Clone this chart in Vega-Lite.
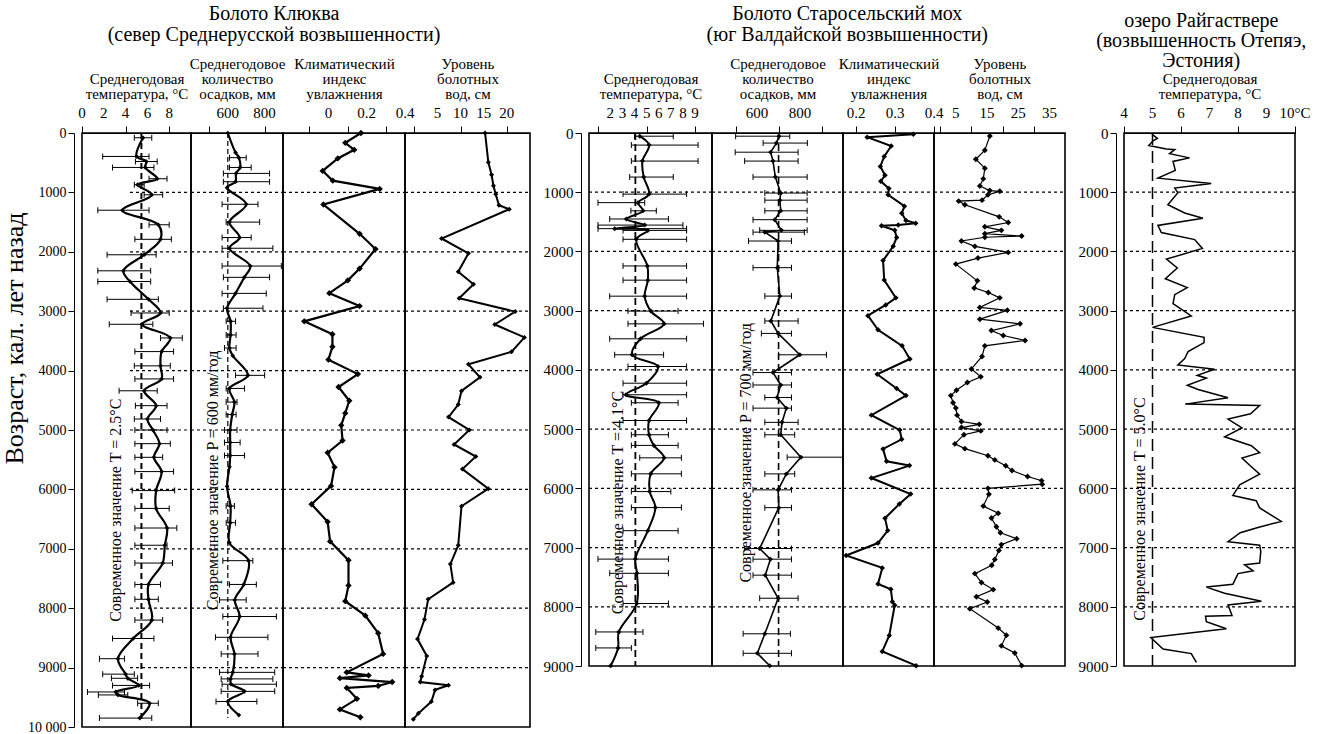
{
"$schema":"https://vega.github.io/schema/vega-lite/v6.json",
"padding":{"left":0,"top":3,"right":5,"bottom":0},
"background":"white",
"config":{
"font":"Liberation Serif",
"view":{"stroke":"black","strokeWidth":1.6},
"axis":{"labelFont":"Liberation Serif","labelFontSize":15,"labelColor":"black","titleFont":"Liberation Serif","titleFontSize":15,"titleFontWeight":"normal","titleColor":"black","titleLineHeight":15,"domainColor":"black","tickColor":"black","grid":false,"labelOverlap":false,"tickSize":7,"labelPadding":0,"titlePadding":2,"labelFlush":false},
"title":{"font":"Liberation Serif","fontSize":20,"fontWeight":"normal","color":"black","lineHeight":21,"anchor":"middle","frame":"bounds"},
"text":{"font":"Liberation Serif"}
},
"datasets":{
"grid9":[{"a":1000},{"a":2000},{"a":3000},{"a":4000},{"a":5000},{"a":6000},{"a":7000},{"a":8000},{"a":9000}],
"grid8":[{"a":1000},{"a":2000},{"a":3000},{"a":4000},{"a":5000},{"a":6000},{"a":7000},{"a":8000}],
"k_t":[
{"a":80,"v":5.6,"lo":4.8,"hi":6.4},{"a":395,"v":5.0,"lo":1.9,"hi":6.15},{"a":480,"v":5.9,"lo":4.9,"hi":6.9},{"a":580,"v":5.8,"lo":2.8,"hi":6.6},{"a":770,"v":6.9,"lo":6.15,"hi":7.8},{"a":870,"v":5.1,"lo":4.8,"hi":5.7},{"a":1040,"v":6.4,"lo":5.7,"hi":7.4},{"a":1300,"v":3.7,"lo":1.45,"hi":6.15},{"a":1545,"v":7.0,"lo":6.15,"hi":8.0},{"a":1790,"v":7.2,"lo":4.85,"hi":8.2},{"a":2050,"v":5.7,"lo":2.3,"hi":6.8},{"a":2320,"v":3.8,"lo":1.45,"hi":6.3},{"a":2500,"v":4.4,"lo":1.45,"hi":6.3},{"a":2800,"v":6.1,"lo":2.3,"hi":7.0},{"a":3030,"v":7.2,"lo":4.5,"hi":8.0},{"a":3220,"v":5.5,"lo":2.5,"hi":6.5},{"a":3450,"v":8.1,"lo":7.2,"hi":9.2},{"a":3680,"v":7.3,"lo":4.85,"hi":8.4},{"a":3920,"v":7.2,"lo":4.8,"hi":8.1},{"a":4140,"v":7.3,"lo":4.85,"hi":8.4},{"a":4340,"v":5.7,"lo":3.4,"hi":6.9},{"a":4590,"v":6.8,"lo":4.9,"hi":7.8},{"a":4815,"v":6.0,"lo":4.8,"hi":7.2},{"a":5000,"v":6.5,"lo":4.85,"hi":7.8},{"a":5230,"v":7.1,"lo":4.85,"hi":8.1},{"a":5460,"v":6.6,"lo":4.85,"hi":7.4},{"a":5700,"v":7.3,"lo":4.85,"hi":8.4},{"a":6020,"v":6.8,"lo":4.6,"hi":8.5},{"a":6320,"v":6.8,"lo":4.85,"hi":8.0},{"a":6650,"v":7.8,"lo":4.85,"hi":8.7},{"a":6940,"v":7.6,"lo":4.85,"hi":7.8},{"a":7240,"v":7.4,"lo":4.85,"hi":8.3},{"a":7600,"v":6.1,"lo":4.85,"hi":7.2},{"a":7850,"v":6.1,"lo":4.85,"hi":7.0},{"a":8200,"v":6.4,"lo":4.85,"hi":7.4},{"a":8510,"v":4.7,"lo":2.8,"hi":6.6},{"a":8850,"v":3.3,"lo":1.6,"hi":3.9},{"a":9110,"v":4.0,"lo":1.9,"hi":4.8},{"a":9180,"v":4.2,"lo":2.7,"hi":5.1},{"a":9300,"v":5.2,"lo":2.8,"hi":6.2},{"a":9410,"v":3.1,"lo":0.5,"hi":3.9},{"a":9460,"v":3.3,"lo":1.5,"hi":4.2},{"a":9600,"v":6.2,"lo":5.1,"hi":7.0},{"a":9850,"v":5.3,"lo":1.6,"hi":6.4}],
"k_p":[
{"a":0,"v":600},{"a":330,"v":642},{"a":415,"v":660,"lo":609,"hi":700},{"a":580,"v":667,"lo":609,"hi":727},{"a":680,"v":645,"lo":576,"hi":827},{"a":820,"v":642,"lo":576,"hi":827},{"a":920,"v":596},{"a":1200,"v":700,"lo":569,"hi":764},{"a":1500,"v":609,"lo":591,"hi":773},{"a":1760,"v":664,"lo":569,"hi":727},{"a":1940,"v":609,"lo":569,"hi":845},{"a":2240,"v":722,"lo":569,"hi":891},{"a":2430,"v":690,"lo":576,"hi":827},{"a":2700,"v":642,"lo":569,"hi":809},{"a":2950,"v":596,"lo":576,"hi":791},{"a":3170,"v":615,"lo":591,"hi":642},{"a":3400,"v":615,"lo":591,"hi":645},{"a":3620,"v":609,"lo":582,"hi":645},{"a":3750,"v":627},{"a":4080,"v":709,"lo":642,"hi":800},{"a":4300,"v":609,"lo":591,"hi":691},{"a":4530,"v":636,"lo":591,"hi":650},{"a":4740,"v":624,"lo":591,"hi":645},{"a":5000,"v":613,"lo":582,"hi":650},{"a":5210,"v":613,"lo":582,"hi":667},{"a":5430,"v":613,"lo":582,"hi":691},{"a":5620,"v":609},{"a":5950,"v":596},{"a":6280,"v":615,"lo":591,"hi":636},{"a":6560,"v":613,"lo":591,"hi":642},{"a":6900,"v":609},{"a":7200,"v":713,"lo":573,"hi":736},{"a":7600,"v":687,"lo":609,"hi":755},{"a":7860,"v":638,"lo":555,"hi":700},{"a":8140,"v":664,"lo":573,"hi":864},{"a":8490,"v":615,"lo":533,"hi":818},{"a":8770,"v":636,"lo":564,"hi":764},{"a":9080,"v":627,"lo":555,"hi":855},{"a":9190,"v":615,"lo":564,"hi":845},{"a":9280,"v":618,"lo":569,"hi":864},{"a":9400,"v":690,"lo":564,"hi":855},{"a":9570,"v":600,"lo":536,"hi":758},{"a":9800,"v":660}],
"k_i":[
{"a":0,"v":0.17},{"a":165,"v":0.088},{"a":283,"v":0.135},{"a":428,"v":0.049},{"a":638,"v":-0.03},{"a":803,"v":0.023},{"a":941,"v":0.268},{"a":1204,"v":-0.026},{"a":1697,"v":0.163},{"a":1954,"v":0.246},{"a":2283,"v":0.163},{"a":2480,"v":0.102},{"a":2697,"v":0.005},{"a":2914,"v":0.163},{"a":3171,"v":-0.126},{"a":3388,"v":0.021},{"a":3599,"v":0.021},{"a":3816,"v":0.0},{"a":4059,"v":0.154},{"a":4276,"v":0.053},{"a":4507,"v":0.109},{"a":4717,"v":0.088},{"a":4921,"v":0.067},{"a":5178,"v":0.074},{"a":5382,"v":-0.004},{"a":5625,"v":0.032},{"a":5941,"v":0.014},{"a":6250,"v":-0.088},{"a":6546,"v":-0.004},{"a":6875,"v":0.009},{"a":7191,"v":0.105},{"a":7618,"v":0.105},{"a":7882,"v":0.088},{"a":8125,"v":0.193},{"a":8421,"v":0.26},{"a":8770,"v":0.286},{"a":9079,"v":0.096},{"a":9132,"v":0.21},{"a":9178,"v":0.06},{"a":9243,"v":0.333},{"a":9309,"v":0.26},{"a":9342,"v":0.096},{"a":9526,"v":0.149},{"a":9704,"v":0.06},{"a":9836,"v":0.167}],
"k_w":[
{"a":0,"v":15.3},{"a":493,"v":16.0},{"a":704,"v":16.7},{"a":888,"v":17.1},{"a":1033,"v":17.6},{"a":1217,"v":18.3},{"a":1283,"v":20.5},{"a":1776,"v":5.9},{"a":2026,"v":11.7},{"a":2336,"v":9.5},{"a":2546,"v":12.8},{"a":2783,"v":9.7},{"a":3007,"v":21.8},{"a":3224,"v":17.4},{"a":3441,"v":23.8},{"a":3684,"v":21.0},{"a":3895,"v":11.7},{"a":4112,"v":14.2},{"a":4342,"v":10.2},{"a":4572,"v":9.5},{"a":4783,"v":7.4},{"a":5000,"v":11.9},{"a":5243,"v":8.6},{"a":5447,"v":13.3},{"a":5658,"v":10.4},{"a":5987,"v":16.0},{"a":6283,"v":10.2},{"a":6941,"v":9.5},{"a":7257,"v":7.8},{"a":7566,"v":8.4},{"a":7849,"v":3.0},{"a":8191,"v":2.2},{"a":8520,"v":0.7},{"a":8803,"v":2.7},{"a":9145,"v":1.6},{"a":9243,"v":1.3},{"a":9296,"v":7.4},{"a":9375,"v":4.5},{"a":9572,"v":3.7},{"a":9770,"v":0.9},{"a":9868,"v":-0.2}],
"s_t":[
{"a":54,"v":4.43,"lo":4.0,"hi":7.2},{"a":204,"v":5.2,"lo":3.74,"hi":9.25},{"a":474,"v":4.65,"lo":3.74,"hi":9.25},{"a":744,"v":4.76,"lo":3.6,"hi":7.2},{"a":1032,"v":5.2,"lo":3.05,"hi":8.3},{"a":1176,"v":4.29,"lo":0.98,"hi":4.84},{"a":1314,"v":4.7,"lo":3.7,"hi":5.8},{"a":1452,"v":3.32,"lo":1.95,"hi":6.8},{"a":1555,"v":4.84,"lo":0.98,"hi":8.0},{"a":1615,"v":2.36,"lo":0.98,"hi":8.3},{"a":1645,"v":5.1,"lo":3.05,"hi":8.3},{"a":1795,"v":4.15,"lo":3.05,"hi":8.3},{"a":2245,"v":5.06,"lo":3.05,"hi":8.3},{"a":2485,"v":5.1,"lo":3.05,"hi":8.3},{"a":2755,"v":4.84,"lo":1.95,"hi":8.3},{"a":3007,"v":5.34,"lo":3.46,"hi":7.6},{"a":3223,"v":6.44,"lo":3.46,"hi":9.7},{"a":3475,"v":4.5,"lo":1.95,"hi":8.3},{"a":3745,"v":3.8,"lo":2.36,"hi":6.4},{"a":3943,"v":5.94,"lo":3.46,"hi":8.3},{"a":4225,"v":4.98,"lo":3.05,"hi":8.3},{"a":4420,"v":3.3,"lo":3.05,"hi":8.3},{"a":4555,"v":6.0,"lo":3.74,"hi":7.6},{"a":4855,"v":5.2,"lo":3.05,"hi":8.3},{"a":5095,"v":5.2,"lo":3.74,"hi":6.8},{"a":5275,"v":5.6,"lo":3.74,"hi":7.6},{"a":5485,"v":6.44,"lo":4.43,"hi":7.87},{"a":5755,"v":5.34,"lo":3.74,"hi":7.87},{"a":6055,"v":5.26,"lo":3.74,"hi":7.0},{"a":6325,"v":5.72,"lo":3.74,"hi":7.87},{"a":6715,"v":5.1,"lo":3.05,"hi":7.6},{"a":7195,"v":4.07,"lo":0.98,"hi":6.8},{"a":7435,"v":4.2,"lo":1.95,"hi":6.8},{"a":7945,"v":4.18,"lo":3.05,"hi":6.8},{"a":8425,"v":2.7,"lo":0.8,"hi":4.7},{"a":8695,"v":2.64,"lo":0.8,"hi":3.74},{"a":8995,"v":2.03}],
"s_p":[
{"a":54,"v":702,"lo":500,"hi":752},{"a":170,"v":690,"lo":628,"hi":834},{"a":324,"v":663,"lo":498,"hi":791},{"a":474,"v":674,"lo":542,"hi":791},{"a":744,"v":685,"lo":581,"hi":833},{"a":1014,"v":710,"lo":636,"hi":833},{"a":1134,"v":706,"lo":636,"hi":833},{"a":1314,"v":710,"lo":636,"hi":833},{"a":1464,"v":682,"lo":581,"hi":833},{"a":1644,"v":713,"lo":612,"hi":833},{"a":1674,"v":636,"lo":581,"hi":820},{"a":1824,"v":698,"lo":560,"hi":760},{"a":2274,"v":694,"lo":581,"hi":760},{"a":2754,"v":706,"lo":636,"hi":760},{"a":3174,"v":664,"lo":636,"hi":791},{"a":3384,"v":698,"lo":620,"hi":760},{"a":3745,"v":799,"lo":700,"hi":923},{"a":4045,"v":674,"lo":581,"hi":760},{"a":4255,"v":710,"lo":581,"hi":760},{"a":4466,"v":693,"lo":636,"hi":760},{"a":4646,"v":736,"lo":581,"hi":760},{"a":4886,"v":716,"lo":636,"hi":791},{"a":5096,"v":710,"lo":636,"hi":775},{"a":5474,"v":804,"lo":740,"hi":1000},{"a":5756,"v":736,"lo":636,"hi":775},{"a":6026,"v":698,"lo":581,"hi":760},{"a":6326,"v":701,"lo":636,"hi":760},{"a":7016,"v":612,"lo":542,"hi":760},{"a":7196,"v":662,"lo":581,"hi":760},{"a":7466,"v":638,"lo":581,"hi":760},{"a":7856,"v":698,"lo":612,"hi":791},{"a":8456,"v":636,"lo":535,"hi":755},{"a":8786,"v":601,"lo":535,"hi":760},{"a":8996,"v":659}],
"s_i":[
{"a":20,"v":0.347},{"a":70,"v":0.228},{"a":220,"v":0.29},{"a":396,"v":0.272},{"a":564,"v":0.262},{"a":714,"v":0.274},{"a":816,"v":0.263},{"a":936,"v":0.284},{"a":1044,"v":0.282},{"a":1236,"v":0.324},{"a":1356,"v":0.317},{"a":1476,"v":0.328},{"a":1524,"v":0.353},{"a":1554,"v":0.308},{"a":1566,"v":0.265},{"a":1644,"v":0.299},{"a":1764,"v":0.304},{"a":1914,"v":0.295},{"a":2154,"v":0.269},{"a":2484,"v":0.272},{"a":2784,"v":0.302},{"a":2904,"v":0.276},{"a":3084,"v":0.23},{"a":3324,"v":0.256},{"a":3594,"v":0.318},{"a":3816,"v":0.338},{"a":4074,"v":0.254},{"a":4314,"v":0.304},{"a":4434,"v":0.328},{"a":4764,"v":0.239},{"a":5016,"v":0.312},{"a":5172,"v":0.317},{"a":5334,"v":0.269},{"a":5544,"v":0.278},{"a":5616,"v":0.337},{"a":5826,"v":0.239},{"a":6096,"v":0.34},{"a":6264,"v":0.311},{"a":6504,"v":0.274},{"a":6714,"v":0.281},{"a":6924,"v":0.256},{"a":7134,"v":0.174},{"a":7344,"v":0.267},{"a":7614,"v":0.256},{"a":7704,"v":0.289},{"a":7914,"v":0.293},{"a":7974,"v":0.299},{"a":8484,"v":0.285},{"a":8754,"v":0.267},{"a":8994,"v":0.354}],
"s_w":[
{"a":50,"v":15.9},{"a":290,"v":14.3},{"a":444,"v":11.4},{"a":594,"v":14.3},{"a":774,"v":13.8},{"a":894,"v":12.7},{"a":972,"v":15.9},{"a":984,"v":19.1},{"a":1044,"v":15.3},{"a":1134,"v":13.4},{"a":1150,"v":5.9},{"a":1212,"v":7.9},{"a":1416,"v":18.9},{"a":1512,"v":21.8},{"a":1584,"v":14.3},{"a":1644,"v":19.6},{"a":1700,"v":14.3},{"a":1740,"v":26.1},{"a":1760,"v":14.3},{"a":1824,"v":6.8},{"a":1914,"v":11.1},{"a":2016,"v":21.8},{"a":2112,"v":12.1},{"a":2214,"v":5.0},{"a":2496,"v":11.9},{"a":2616,"v":10.9},{"a":2694,"v":15.4},{"a":2784,"v":19.1},{"a":2946,"v":12.7},{"a":2994,"v":21.5},{"a":3144,"v":12.7},{"a":3222,"v":25.6},{"a":3336,"v":16.4},{"a":3420,"v":20.2},{"a":3504,"v":27.2},{"a":3594,"v":14.3},{"a":3774,"v":13.4},{"a":3984,"v":10.0},{"a":4116,"v":13.0},{"a":4212,"v":8.7},{"a":4344,"v":5.2},{"a":4434,"v":3.4},{"a":4554,"v":4.1},{"a":4644,"v":5.0},{"a":4764,"v":5.4},{"a":4872,"v":6.8},{"a":4920,"v":12.5},{"a":4974,"v":6.8},{"a":5030,"v":13.0},{"a":5094,"v":7.6},{"a":5250,"v":4.7},{"a":5330,"v":7.9},{"a":5450,"v":15.3},{"a":5520,"v":17.5},{"a":5620,"v":21.0},{"a":5700,"v":23.0},{"a":5800,"v":28.0},{"a":5870,"v":32.5},{"a":5930,"v":32.7},{"a":6000,"v":15.3},{"a":6100,"v":15.6},{"a":6300,"v":13.8},{"a":6420,"v":18.6},{"a":6500,"v":16.4},{"a":6650,"v":18.0},{"a":6750,"v":19.3},{"a":6850,"v":24.5},{"a":6950,"v":19.6},{"a":7050,"v":18.8},{"a":7200,"v":17.5},{"a":7300,"v":16.5},{"a":7440,"v":11.1},{"a":7590,"v":13.2},{"a":7710,"v":17.0},{"a":7830,"v":11.6},{"a":7920,"v":15.1},{"a":8033,"v":9.5},{"a":8360,"v":18.6},{"a":8480,"v":21.2},{"a":8660,"v":19.6},{"a":8780,"v":23.9},{"a":8993,"v":26.1}],
"r_t":[
{"a":18,"v":4.98},{"a":90,"v":5.17},{"a":132,"v":5.02},{"a":210,"v":4.87},{"a":270,"v":5.49},{"a":282,"v":5.78},{"a":348,"v":5.6},{"a":420,"v":6.3},{"a":480,"v":5.72},{"a":630,"v":5.8},{"a":762,"v":5.19},{"a":852,"v":7.06},{"a":930,"v":5.78},{"a":1008,"v":5.89},{"a":1212,"v":5.54},{"a":1350,"v":6.13},{"a":1440,"v":6.77},{"a":1560,"v":5.19},{"a":1680,"v":5.31},{"a":1800,"v":6.48},{"a":1950,"v":6.75},{"a":2130,"v":5.49},{"a":2280,"v":5.87},{"a":2460,"v":5.45},{"a":2610,"v":6.22},{"a":2730,"v":5.78},{"a":2880,"v":5.72},{"a":3090,"v":6.36},{"a":3282,"v":5.0},{"a":3450,"v":6.81},{"a":3540,"v":6.81},{"a":3690,"v":6.25},{"a":3810,"v":6.13},{"a":3918,"v":5.89},{"a":3990,"v":7.18},{"a":4092,"v":6.57},{"a":4140,"v":6.89},{"a":4260,"v":6.22},{"a":4332,"v":6.6},{"a":4470,"v":7.65},{"a":4578,"v":6.15},{"a":4602,"v":8.76},{"a":4740,"v":8.44},{"a":4830,"v":7.65},{"a":4980,"v":8.14},{"a":5130,"v":7.53},{"a":5280,"v":8.47},{"a":5400,"v":8.76},{"a":5490,"v":8.14},{"a":5610,"v":8.41},{"a":5760,"v":8.76},{"a":5940,"v":8.06},{"a":6120,"v":7.82},{"a":6210,"v":8.64},{"a":6330,"v":8.76},{"a":6558,"v":9.52},{"a":6660,"v":8.7},{"a":6750,"v":8.08},{"a":6900,"v":7.65},{"a":6960,"v":8.76},{"a":7068,"v":8.8},{"a":7260,"v":8.76},{"a":7290,"v":8.23},{"a":7392,"v":8.53},{"a":7440,"v":8.0},{"a":7620,"v":7.82},{"a":7668,"v":6.89},{"a":7770,"v":7.53},{"a":7908,"v":8.82},{"a":7968,"v":7.65},{"a":8148,"v":7.79},{"a":8160,"v":6.86},{"a":8250,"v":6.89},{"a":8370,"v":7.59},{"a":8520,"v":4.94},{"a":8712,"v":5.37},{"a":8790,"v":6.36},{"a":8940,"v":6.54}]
},
"hconcat":[
{
"title":{"text":["Болото Клюква","(север Среднерусской возвышенности)"],"offset":11,"dx":8},
"spacing":0,"bounds":"flush",
"hconcat":[
{"width":109,"height":594,"layer":[
{"data":{"name":"grid9"},"mark":{"type":"rule","strokeDash":[3,3],"strokeWidth":1.2,"color":"black"},
"encoding":{"y":{"field":"a","type":"quantitative","scale":{"domain":[0,10000],"reverse":true,"nice":false,"zero":false},"axis":{"orient":"left","offset":8,"tickSize":6,"labelPadding":2,"values":[0,500,1000,1500,2000,2500,3000,3500,4000,4500,5000,5500,6000,6500,7000,7500,8000,8500,9000,9500,10000],"format":"d","labelExpr":"datum.value == 10000 ? '10 000' : datum.label","labelFontSize":14,"labelOverlap":false,"title":"Возраст, кал. лет назад","titleFontSize":26,"titlePadding":0,"titleY":205}},
"x":{"datum":4.4,"type":"quantitative","scale":{"domain":[0,10],"nice":false,"zero":false},"axis":{"orient":"top","values":[0,1,2,3,4,5,6,7,8,9],"labels":false,"titlePadding":24,"title":["Среднегодовая","температура, °C"]}},"x2":{"datum":10}}},
{"data":{"values":[{"v":0,"t":"0"},{"v":2,"t":"2"},{"v":4,"t":"4"},{"v":6,"t":"6"},{"v":8,"t":"8"}]},"mark":{"type":"text","fontSize":15,"baseline":"middle","align":"center","color":"black","clip":false},
"encoding":{"x":{"field":"v","type":"quantitative","scale":{"domain":[0,10],"nice":false,"zero":false}},"y":{"datum":-330,"type":"quantitative","scale":{"domain":[0,10000],"reverse":true,"nice":false,"zero":false}},"text":{"field":"t"}}},
{"data":{"name":"k_t"},"transform":[{"filter":"isValid(datum.lo)"}],"mark":{"type":"rule","strokeWidth":1,"color":"black"},
"encoding":{"x":{"field":"lo","type":"quantitative","scale":{"domain":[0,10],"nice":false,"zero":false}},"x2":{"field":"hi"},"y":{"field":"a","type":"quantitative","scale":{"domain":[0,10000],"reverse":true,"nice":false,"zero":false}}}},
{"data":{"name":"k_t"},"transform":[{"filter":"isValid(datum.lo)"},{"fold":["lo","hi"],"as":["k","e"]}],"mark":{"type":"tick","orient":"vertical","size":6,"thickness":1,"color":"black","opacity":1},
"encoding":{"x":{"field":"e","type":"quantitative","scale":{"domain":[0,10],"nice":false,"zero":false}},"y":{"field":"a","type":"quantitative","scale":{"domain":[0,10000],"reverse":true,"nice":false,"zero":false}}}},
{"data":{"values":[{"v":5.45,"y0":0,"y1":9900}]},"mark":{"type":"rule","strokeDash":[6,4],"strokeWidth":2,"color":"black"},
"encoding":{"x":{"field":"v","type":"quantitative","scale":{"domain":[0,10],"nice":false,"zero":false}},"y":{"field":"y0","type":"quantitative","scale":{"domain":[0,10000],"reverse":true,"nice":false,"zero":false}},"y2":{"field":"y1"}}},
{"data":{"name":"k_t"},"mark":{"type":"line","interpolate":"catmull-rom","strokeWidth":2.2,"color":"black"},
"encoding":{"x":{"field":"v","type":"quantitative","scale":{"domain":[0,10],"nice":false,"zero":false}},"y":{"field":"a","type":"quantitative","scale":{"domain":[0,10000],"reverse":true,"nice":false,"zero":false}},"order":{"field":"a","type":"quantitative"}}},
{"data":{"name":"k_t"},"mark":{"type":"point","shape":"diamond","filled":true,"size":22,"color":"black","opacity":1},
"encoding":{"x":{"field":"v","type":"quantitative","scale":{"domain":[0,10],"nice":false,"zero":false}},"y":{"field":"a","type":"quantitative","scale":{"domain":[0,10000],"reverse":true,"nice":false,"zero":false}}}},
{"data":{"values":[{"label":"Современное значение T = 2.5°C","x":3.1,"y":6350}]},"mark":{"type":"text","angle":270,"fontSize":16,"color":"black"},
"encoding":{"x":{"field":"x","type":"quantitative","scale":{"domain":[0,10],"nice":false,"zero":false}},"y":{"field":"y","type":"quantitative","scale":{"domain":[0,10000],"reverse":true,"nice":false,"zero":false}},"text":{"field":"label"}}}
]},
{"width":92,"height":594,"layer":[
{"data":{"name":"grid9"},"mark":{"type":"rule","strokeDash":[3,3],"strokeWidth":1.2,"color":"black"},
"encoding":{"y":{"field":"a","type":"quantitative","scale":{"domain":[0,10000],"reverse":true,"nice":false,"zero":false},"axis":null},
"x":{"datum":400,"type":"quantitative","scale":{"domain":[400,900],"nice":false,"zero":false},"axis":{"orient":"top","values":[500,600,700,800],"labels":false,"titlePadding":24,"title":["Среднегодовое","количество","осадков, мм"]}},"x2":{"datum":900}}},
{"data":{"values":[{"v":600,"t":"600"},{"v":800,"t":"800"}]},"mark":{"type":"text","fontSize":15,"baseline":"middle","align":"center","color":"black","clip":false},
"encoding":{"x":{"field":"v","type":"quantitative","scale":{"domain":[400,900],"nice":false,"zero":false}},"y":{"datum":-330,"type":"quantitative","scale":{"domain":[0,10000],"reverse":true,"nice":false,"zero":false},"axis":null},"text":{"field":"t"}}},
{"data":{"name":"k_p"},"transform":[{"filter":"isValid(datum.lo)"}],"mark":{"type":"rule","strokeWidth":1,"color":"black"},
"encoding":{"x":{"field":"lo","type":"quantitative","scale":{"domain":[400,900],"nice":false,"zero":false}},"x2":{"field":"hi"},"y":{"field":"a","type":"quantitative","scale":{"domain":[0,10000],"reverse":true,"nice":false,"zero":false},"axis":null}}},
{"data":{"name":"k_p"},"transform":[{"filter":"isValid(datum.lo)"},{"fold":["lo","hi"],"as":["k","e"]}],"mark":{"type":"tick","orient":"vertical","size":6,"thickness":1,"color":"black","opacity":1},
"encoding":{"x":{"field":"e","type":"quantitative","scale":{"domain":[400,900],"nice":false,"zero":false}},"y":{"field":"a","type":"quantitative","scale":{"domain":[0,10000],"reverse":true,"nice":false,"zero":false},"axis":null}}},
{"data":{"values":[{"v":600,"y0":0,"y1":9850}]},"mark":{"type":"rule","strokeDash":[5,3],"strokeWidth":1.2,"color":"black"},
"encoding":{"x":{"field":"v","type":"quantitative","scale":{"domain":[400,900],"nice":false,"zero":false}},"y":{"field":"y0","type":"quantitative","scale":{"domain":[0,10000],"reverse":true,"nice":false,"zero":false},"axis":null},"y2":{"field":"y1"}}},
{"data":{"name":"k_p"},"mark":{"type":"line","interpolate":"catmull-rom","strokeWidth":2.2,"color":"black"},
"encoding":{"x":{"field":"v","type":"quantitative","scale":{"domain":[400,900],"nice":false,"zero":false}},"y":{"field":"a","type":"quantitative","scale":{"domain":[0,10000],"reverse":true,"nice":false,"zero":false},"axis":null},"order":{"field":"a","type":"quantitative"}}},
{"data":{"name":"k_p"},"mark":{"type":"point","shape":"diamond","filled":true,"size":22,"color":"black","opacity":1},
"encoding":{"x":{"field":"v","type":"quantitative","scale":{"domain":[400,900],"nice":false,"zero":false}},"y":{"field":"a","type":"quantitative","scale":{"domain":[0,10000],"reverse":true,"nice":false,"zero":false},"axis":null}}},
{"data":{"values":[{"label":"Современное значение P = 600 мм/год","x":520,"y":5850}]},"mark":{"type":"text","angle":270,"fontSize":16,"color":"black"},
"encoding":{"x":{"field":"x","type":"quantitative","scale":{"domain":[400,900],"nice":false,"zero":false}},"y":{"field":"y","type":"quantitative","scale":{"domain":[0,10000],"reverse":true,"nice":false,"zero":false},"axis":null},"text":{"field":"label"}}}
]},
{"width":122,"height":594,"layer":[
{"data":{"name":"grid9"},"mark":{"type":"rule","strokeDash":[3,3],"strokeWidth":1.2,"color":"black"},
"encoding":{"y":{"field":"a","type":"quantitative","scale":{"domain":[0,10000],"reverse":true,"nice":false,"zero":false},"axis":null},
"x":{"datum":-0.237,"type":"quantitative","scale":{"domain":[-0.237,0.4],"nice":false,"zero":false},"axis":{"orient":"top","values":[-0.1,0,0.1,0.2,0.3,0.4],"labels":false,"titlePadding":24,"title":["Климатический","индекс","увлажнения"]}},"x2":{"datum":0.4}}},
{"data":{"values":[{"v":0,"t":"0"},{"v":0.2,"t":"0.2"},{"v":0.4,"t":"0.4"}]},"mark":{"type":"text","fontSize":15,"baseline":"middle","align":"center","color":"black","clip":false},
"encoding":{"x":{"field":"v","type":"quantitative","scale":{"domain":[-0.237,0.4],"nice":false,"zero":false}},"y":{"datum":-330,"type":"quantitative","scale":{"domain":[0,10000],"reverse":true,"nice":false,"zero":false},"axis":null},"text":{"field":"t"}}},
{"data":{"name":"k_i"},"mark":{"type":"line","strokeWidth":2.2,"color":"black"},
"encoding":{"x":{"field":"v","type":"quantitative","scale":{"domain":[-0.237,0.4],"nice":false,"zero":false}},"y":{"field":"a","type":"quantitative","scale":{"domain":[0,10000],"reverse":true,"nice":false,"zero":false},"axis":null},"order":{"field":"a","type":"quantitative"}}},
{"data":{"name":"k_i"},"mark":{"type":"point","shape":"diamond","filled":true,"size":40,"color":"black","opacity":1},
"encoding":{"x":{"field":"v","type":"quantitative","scale":{"domain":[-0.237,0.4],"nice":false,"zero":false}},"y":{"field":"a","type":"quantitative","scale":{"domain":[0,10000],"reverse":true,"nice":false,"zero":false},"axis":null}}}
]},
{"width":125,"height":594,"layer":[
{"data":{"name":"grid9"},"mark":{"type":"rule","strokeDash":[3,3],"strokeWidth":1.2,"color":"black"},
"encoding":{"y":{"field":"a","type":"quantitative","scale":{"domain":[0,10000],"reverse":true,"nice":false,"zero":false},"axis":null},
"x":{"datum":-2,"type":"quantitative","scale":{"domain":[-2,25],"nice":false,"zero":false},"axis":{"orient":"top","values":[0,5,10,15,20],"labels":false,"titlePadding":24,"title":["Уровень","болотных","вод, см"]}},"x2":{"datum":25}}},
{"data":{"values":[{"v":5,"t":"5"},{"v":10,"t":"10"},{"v":15,"t":"15"},{"v":20,"t":"20"}]},"mark":{"type":"text","fontSize":15,"baseline":"middle","align":"center","color":"black","clip":false},
"encoding":{"x":{"field":"v","type":"quantitative","scale":{"domain":[-2,25],"nice":false,"zero":false}},"y":{"datum":-330,"type":"quantitative","scale":{"domain":[0,10000],"reverse":true,"nice":false,"zero":false},"axis":null},"text":{"field":"t"}}},
{"data":{"name":"k_w"},"mark":{"type":"line","strokeWidth":2,"color":"black"},
"encoding":{"x":{"field":"v","type":"quantitative","scale":{"domain":[-2,25],"nice":false,"zero":false}},"y":{"field":"a","type":"quantitative","scale":{"domain":[0,10000],"reverse":true,"nice":false,"zero":false},"axis":null},"order":{"field":"a","type":"quantitative"}}},
{"data":{"name":"k_w"},"mark":{"type":"point","shape":"diamond","filled":true,"size":25,"color":"black","opacity":1},
"encoding":{"x":{"field":"v","type":"quantitative","scale":{"domain":[-2,25],"nice":false,"zero":false}},"y":{"field":"a","type":"quantitative","scale":{"domain":[0,10000],"reverse":true,"nice":false,"zero":false},"axis":null}}}
]}
]
},
{
"title":{"text":["Болото Старосельский мох","(юг Валдайской возвышенности)"],"offset":11,"dx":43},
"spacing":0,"bounds":"flush",
"hconcat":[
{"width":123,"height":533,"layer":[
{"data":{"name":"grid8"},"mark":{"type":"rule","strokeDash":[3,3],"strokeWidth":1.2,"color":"black"},
"encoding":{"y":{"field":"a","type":"quantitative","scale":{"domain":[0,9000],"reverse":true,"nice":false,"zero":false},"axis":{"orient":"left","offset":8,"tickSize":6,"labelPadding":2,"values":[0,500,1000,1500,2000,2500,3000,3500,4000,4500,5000,5500,6000,6500,7000,7500,8000,8500,9000],"format":"d","labelOverlap":false,"title":null}},
"x":{"datum":0.24,"type":"quantitative","scale":{"domain":[0.24,10.4],"nice":false,"zero":false},"axis":{"orient":"top","values":[1,2,3,4,5,6,7,8,9],"labels":false,"titlePadding":24,"title":["Среднегодовая","температура, °C"]}},"x2":{"datum":10.4}}},
{"data":{"values":[{"v":2,"t":"2"},{"v":3,"t":"3"},{"v":4,"t":"4"},{"v":5,"t":"5"},{"v":6,"t":"6"},{"v":7,"t":"7"},{"v":8,"t":"8"},{"v":9,"t":"9"}]},"mark":{"type":"text","fontSize":15,"baseline":"middle","align":"center","color":"black","clip":false},
"encoding":{"x":{"field":"v","type":"quantitative","scale":{"domain":[0.24,10.4],"nice":false,"zero":false}},"y":{"datum":-330,"type":"quantitative","scale":{"domain":[0,9000],"reverse":true,"nice":false,"zero":false}},"text":{"field":"t"}}},
{"data":{"name":"s_t"},"transform":[{"filter":"isValid(datum.lo)"}],"mark":{"type":"rule","strokeWidth":1,"color":"black"},
"encoding":{"x":{"field":"lo","type":"quantitative","scale":{"domain":[0.24,10.4],"nice":false,"zero":false}},"x2":{"field":"hi"},"y":{"field":"a","type":"quantitative","scale":{"domain":[0,9000],"reverse":true,"nice":false,"zero":false}}}},
{"data":{"name":"s_t"},"transform":[{"filter":"isValid(datum.lo)"},{"fold":["lo","hi"],"as":["k","e"]}],"mark":{"type":"tick","orient":"vertical","size":6,"thickness":1,"color":"black","opacity":1},
"encoding":{"x":{"field":"e","type":"quantitative","scale":{"domain":[0.24,10.4],"nice":false,"zero":false}},"y":{"field":"a","type":"quantitative","scale":{"domain":[0,9000],"reverse":true,"nice":false,"zero":false}}}},
{"data":{"values":[{"v":4.07,"y0":0,"y1":9000}]},"mark":{"type":"rule","strokeDash":[7,4],"strokeWidth":1.8,"color":"black"},
"encoding":{"x":{"field":"v","type":"quantitative","scale":{"domain":[0.24,10.4],"nice":false,"zero":false}},"y":{"field":"y0","type":"quantitative","scale":{"domain":[0,9000],"reverse":true,"nice":false,"zero":false}},"y2":{"field":"y1"}}},
{"data":{"name":"s_t"},"mark":{"type":"line","interpolate":"catmull-rom","strokeWidth":2,"color":"black"},
"encoding":{"x":{"field":"v","type":"quantitative","scale":{"domain":[0.24,10.4],"nice":false,"zero":false}},"y":{"field":"a","type":"quantitative","scale":{"domain":[0,9000],"reverse":true,"nice":false,"zero":false}},"order":{"field":"a","type":"quantitative"}}},
{"data":{"name":"s_t"},"mark":{"type":"point","shape":"diamond","filled":true,"size":25,"color":"black","opacity":1},
"encoding":{"x":{"field":"v","type":"quantitative","scale":{"domain":[0.24,10.4],"nice":false,"zero":false}},"y":{"field":"a","type":"quantitative","scale":{"domain":[0,9000],"reverse":true,"nice":false,"zero":false}}}},
{"data":{"values":[{"label":"Современное значение T = 4.1°C","x":2.6,"y":6240}]},"mark":{"type":"text","angle":270,"fontSize":16,"color":"black"},
"encoding":{"x":{"field":"x","type":"quantitative","scale":{"domain":[0.24,10.4],"nice":false,"zero":false}},"y":{"field":"y","type":"quantitative","scale":{"domain":[0,9000],"reverse":true,"nice":false,"zero":false}},"text":{"field":"label"}}}
]},
{"width":131,"height":533,"layer":[
{"data":{"name":"grid8"},"mark":{"type":"rule","strokeDash":[3,3],"strokeWidth":1.2,"color":"black"},
"encoding":{"y":{"field":"a","type":"quantitative","scale":{"domain":[0,9000],"reverse":true,"nice":false,"zero":false},"axis":null},
"x":{"datum":390,"type":"quantitative","scale":{"domain":[390,1000],"nice":false,"zero":false},"axis":{"orient":"top","values":[500,600,700,800,900],"labels":false,"titlePadding":24,"title":["Среднегодовое","количество","осадков, мм"]}},"x2":{"datum":1000}}},
{"data":{"values":[{"v":600,"t":"600"},{"v":800,"t":"800"}]},"mark":{"type":"text","fontSize":15,"baseline":"middle","align":"center","color":"black","clip":false},
"encoding":{"x":{"field":"v","type":"quantitative","scale":{"domain":[390,1000],"nice":false,"zero":false}},"y":{"datum":-330,"type":"quantitative","scale":{"domain":[0,9000],"reverse":true,"nice":false,"zero":false},"axis":null},"text":{"field":"t"}}},
{"data":{"name":"s_p"},"transform":[{"filter":"isValid(datum.lo)"}],"mark":{"type":"rule","strokeWidth":1,"color":"black"},
"encoding":{"x":{"field":"lo","type":"quantitative","scale":{"domain":[390,1000],"nice":false,"zero":false}},"x2":{"field":"hi"},"y":{"field":"a","type":"quantitative","scale":{"domain":[0,9000],"reverse":true,"nice":false,"zero":false},"axis":null}}},
{"data":{"name":"s_p"},"transform":[{"filter":"isValid(datum.lo)"},{"fold":["lo","hi"],"as":["k","e"]}],"mark":{"type":"tick","orient":"vertical","size":6,"thickness":1,"color":"black","opacity":1},
"encoding":{"x":{"field":"e","type":"quantitative","scale":{"domain":[390,1000],"nice":false,"zero":false}},"y":{"field":"a","type":"quantitative","scale":{"domain":[0,9000],"reverse":true,"nice":false,"zero":false},"axis":null}}},
{"data":{"values":[{"v":700,"y0":0,"y1":9000}]},"mark":{"type":"rule","strokeDash":[7,4],"strokeWidth":1.6,"color":"black"},
"encoding":{"x":{"field":"v","type":"quantitative","scale":{"domain":[390,1000],"nice":false,"zero":false}},"y":{"field":"y0","type":"quantitative","scale":{"domain":[0,9000],"reverse":true,"nice":false,"zero":false},"axis":null},"y2":{"field":"y1"}}},
{"data":{"name":"s_p"},"mark":{"type":"line","strokeWidth":1.6,"color":"black"},
"encoding":{"x":{"field":"v","type":"quantitative","scale":{"domain":[390,1000],"nice":false,"zero":false}},"y":{"field":"a","type":"quantitative","scale":{"domain":[0,9000],"reverse":true,"nice":false,"zero":false},"axis":null},"order":{"field":"a","type":"quantitative"}}},
{"data":{"name":"s_p"},"mark":{"type":"point","shape":"diamond","filled":true,"size":25,"color":"black","opacity":1},
"encoding":{"x":{"field":"v","type":"quantitative","scale":{"domain":[390,1000],"nice":false,"zero":false}},"y":{"field":"a","type":"quantitative","scale":{"domain":[0,9000],"reverse":true,"nice":false,"zero":false},"axis":null}}},
{"data":{"values":[{"label":"Современное значение P = 700 мм/год","x":549,"y":5400}]},"mark":{"type":"text","angle":270,"fontSize":16,"color":"black"},
"encoding":{"x":{"field":"x","type":"quantitative","scale":{"domain":[390,1000],"nice":false,"zero":false}},"y":{"field":"y","type":"quantitative","scale":{"domain":[0,9000],"reverse":true,"nice":false,"zero":false},"axis":null},"text":{"field":"label"}}}
]},
{"width":91,"height":533,"layer":[
{"data":{"name":"grid8"},"mark":{"type":"rule","strokeDash":[3,3],"strokeWidth":1.2,"color":"black"},
"encoding":{"y":{"field":"a","type":"quantitative","scale":{"domain":[0,9000],"reverse":true,"nice":false,"zero":false},"axis":null},
"x":{"datum":0.166,"type":"quantitative","scale":{"domain":[0.166,0.4],"nice":false,"zero":false},"axis":{"orient":"top","values":[0.2,0.25,0.3,0.35,0.4],"labels":false,"titlePadding":24,"title":["Климатический","индекс","увлажнения"]}},"x2":{"datum":0.4}}},
{"data":{"values":[{"v":0.2,"t":"0.2"},{"v":0.3,"t":"0.3"},{"v":0.4,"t":"0.4"}]},"mark":{"type":"text","fontSize":15,"baseline":"middle","align":"center","color":"black","clip":false},
"encoding":{"x":{"field":"v","type":"quantitative","scale":{"domain":[0.166,0.4],"nice":false,"zero":false}},"y":{"datum":-330,"type":"quantitative","scale":{"domain":[0,9000],"reverse":true,"nice":false,"zero":false},"axis":null},"text":{"field":"t"}}},
{"data":{"name":"s_i"},"mark":{"type":"line","strokeWidth":2,"color":"black"},
"encoding":{"x":{"field":"v","type":"quantitative","scale":{"domain":[0.166,0.4],"nice":false,"zero":false}},"y":{"field":"a","type":"quantitative","scale":{"domain":[0,9000],"reverse":true,"nice":false,"zero":false},"axis":null},"order":{"field":"a","type":"quantitative"}}},
{"data":{"name":"s_i"},"mark":{"type":"point","shape":"diamond","filled":true,"size":30,"color":"black","opacity":1},
"encoding":{"x":{"field":"v","type":"quantitative","scale":{"domain":[0.166,0.4],"nice":false,"zero":false}},"y":{"field":"a","type":"quantitative","scale":{"domain":[0,9000],"reverse":true,"nice":false,"zero":false},"axis":null}}}
]},
{"width":131,"height":533,"layer":[
{"data":{"name":"grid8"},"mark":{"type":"rule","strokeDash":[3,3],"strokeWidth":1.2,"color":"black"},
"encoding":{"y":{"field":"a","type":"quantitative","scale":{"domain":[0,9000],"reverse":true,"nice":false,"zero":false},"axis":null},
"x":{"datum":-2,"type":"quantitative","scale":{"domain":[-2,40],"nice":false,"zero":false},"axis":{"orient":"top","values":[0,5,10,15,20,25,30,35],"labels":false,"titlePadding":24,"title":["Уровень","болотных","вод, см"]}},"x2":{"datum":40}}},
{"data":{"values":[{"v":5,"t":"5"},{"v":15,"t":"15"},{"v":25,"t":"25"},{"v":35,"t":"35"}]},"mark":{"type":"text","fontSize":15,"baseline":"middle","align":"center","color":"black","clip":false},
"encoding":{"x":{"field":"v","type":"quantitative","scale":{"domain":[-2,40],"nice":false,"zero":false}},"y":{"datum":-330,"type":"quantitative","scale":{"domain":[0,9000],"reverse":true,"nice":false,"zero":false},"axis":null},"text":{"field":"t"}}},
{"data":{"name":"s_w"},"mark":{"type":"line","strokeWidth":1.2,"color":"black"},
"encoding":{"x":{"field":"v","type":"quantitative","scale":{"domain":[-2,40],"nice":false,"zero":false}},"y":{"field":"a","type":"quantitative","scale":{"domain":[0,9000],"reverse":true,"nice":false,"zero":false},"axis":null},"order":{"field":"a","type":"quantitative"}}},
{"data":{"name":"s_w"},"mark":{"type":"point","shape":"diamond","filled":true,"size":35,"color":"black","opacity":1},
"encoding":{"x":{"field":"v","type":"quantitative","scale":{"domain":[-2,40],"nice":false,"zero":false}},"y":{"field":"a","type":"quantitative","scale":{"domain":[0,9000],"reverse":true,"nice":false,"zero":false},"axis":null}}}
]}
]
},
{
"title":{"text":["озеро Райгаствере","(возвышенность Отепяэ,","Эстония)"],"offset":0,"dx":7,"lineHeight":20},
"spacing":0,"bounds":"flush",
"hconcat":[
{"width":171,"height":533,"layer":[
{"data":{"name":"grid8"},"mark":{"type":"rule","strokeDash":[3,3],"strokeWidth":1.2,"color":"black"},
"encoding":{"y":{"field":"a","type":"quantitative","scale":{"domain":[0,9000],"reverse":true,"nice":false,"zero":false},"axis":{"orient":"left","offset":8,"tickSize":6,"labelPadding":2,"values":[0,500,1000,1500,2000,2500,3000,3500,4000,4500,5000,5500,6000,6500,7000,7500,8000,8500,9000],"format":"d","labelOverlap":false,"title":null}},
"x":{"datum":4,"type":"quantitative","scale":{"domain":[4,10],"nice":false,"zero":false},"axis":{"orient":"top","values":[4,5,6,7,8,9,10],"labels":false,"titlePadding":24,"title":["Среднегодовая","температура, °C"]}},"x2":{"datum":10}}},
{"data":{"values":[{"v":4,"t":"4"},{"v":5,"t":"5"},{"v":6,"t":"6"},{"v":7,"t":"7"},{"v":8,"t":"8"},{"v":9,"t":"9"},{"v":10,"t":"10°C"}]},"mark":{"type":"text","fontSize":15,"baseline":"middle","align":"center","color":"black","clip":false},
"encoding":{"x":{"field":"v","type":"quantitative","scale":{"domain":[4,10],"nice":false,"zero":false}},"y":{"datum":-330,"type":"quantitative","scale":{"domain":[0,9000],"reverse":true,"nice":false,"zero":false}},"text":{"field":"t"}}},
{"data":{"values":[{"v":5.0,"y0":0,"y1":9000}]},"mark":{"type":"rule","strokeDash":[12,6],"strokeWidth":1.5,"color":"black"},
"encoding":{"x":{"field":"v","type":"quantitative","scale":{"domain":[4,10],"nice":false,"zero":false}},"y":{"field":"y0","type":"quantitative","scale":{"domain":[0,9000],"reverse":true,"nice":false,"zero":false}},"y2":{"field":"y1"}}},
{"data":{"name":"r_t"},"mark":{"type":"line","strokeWidth":1.5,"color":"black"},
"encoding":{"x":{"field":"v","type":"quantitative","scale":{"domain":[4,10],"nice":false,"zero":false}},"y":{"field":"a","type":"quantitative","scale":{"domain":[0,9000],"reverse":true,"nice":false,"zero":false}},"order":{"field":"a","type":"quantitative"}}},
{"data":{"values":[{"label":"Современное значение T = 5.0°C","x":4.55,"y":6350}]},"mark":{"type":"text","angle":270,"fontSize":16,"color":"black"},
"encoding":{"x":{"field":"x","type":"quantitative","scale":{"domain":[4,10],"nice":false,"zero":false}},"y":{"field":"y","type":"quantitative","scale":{"domain":[0,9000],"reverse":true,"nice":false,"zero":false}},"text":{"field":"label"}}}
]}
]
}
],
"spacing":10
}
